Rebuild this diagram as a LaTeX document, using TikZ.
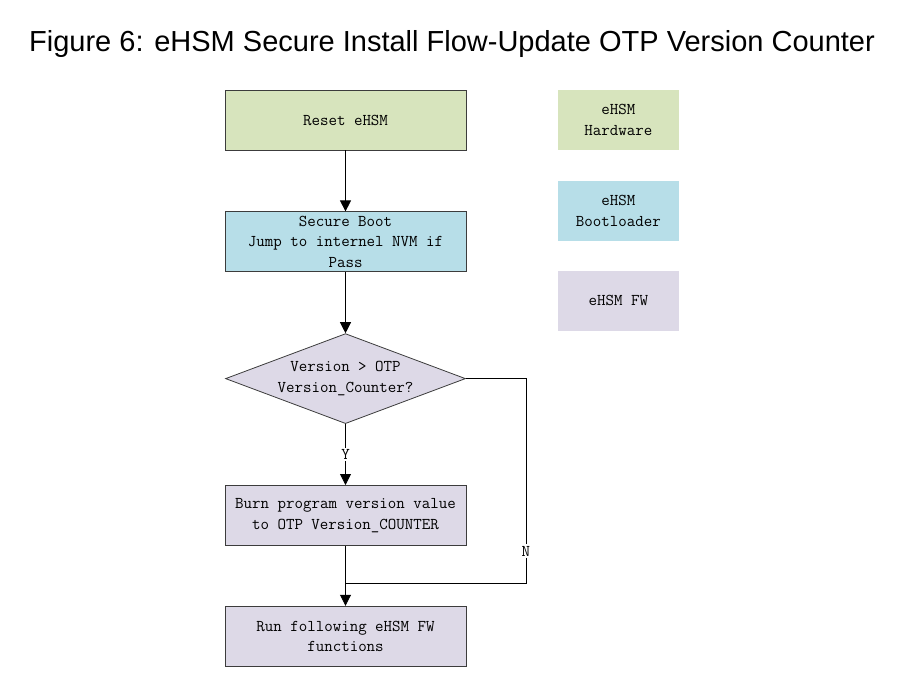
\documentclass[tikz,border=0pt]{standalone}
\usepackage{fontspec}
\setmainfont{Liberation Sans}
\usepackage{tikz}
\usetikzlibrary{arrows.meta,calc,positioning,shapes.geometric}
\definecolor{hwgreen}{HTML}{D7E4BD}
\definecolor{blblue}{HTML}{B7DEE8}
\definecolor{fwlilac}{HTML}{DDD9E7}
\definecolor{edgegray}{HTML}{3C3C3C}
\tikzset{
  flow node/.style={draw=edgegray,line width=0.8pt,minimum width=241pt,
    minimum height=60pt,inner sep=2pt,align=center,
    font=\ttfamily\fontsize{16.5}{20.5}\selectfont},
  hw node/.style={flow node,fill=hwgreen},
  bl node/.style={flow node,fill=blblue},
  fw node/.style={flow node,fill=fwlilac},
  check node/.style={fw node,diamond,aspect=2.67,minimum width=240pt,
    minimum height=90pt,inner sep=0pt},
  legend node/.style={flow node,draw=none,minimum width=121pt},
  flow arrow/.style={-{Triangle[length=11pt,width=11pt]},line width=0.8pt,
    draw=black},
  flow line/.style={line width=0.8pt,draw=black},
  branch label/.style={fill=white,inner sep=1.5pt,
    font=\ttfamily\fontsize{16.5}{18}\selectfont},
}
\begin{document}
\begin{tikzpicture}[x=1pt,y=-1pt,node distance=61pt]
  \useasboundingbox (0,0) rectangle (901,694);
  \node[font=\fontsize{29}{34}\selectfont] (title) at (452,44)
    {Figure 6: eHSM Secure Install Flow-Update OTP Version Counter};

  % Main flow, top to bottom.
  \node[hw node] (reset) at (345.5,120) {Reset eHSM};
  \node[bl node,below=of reset] (boot)
    {Secure Boot\\Jump to internel NVM if\\Pass};
  \node[check node,below=of boot] (check)
    {Version > OTP\\Version\_Counter?};
  \node[fw node,below=of check] (burn)
    {Burn program version value\\to OTP Version\_COUNTER};
  \node[fw node,below=60pt of burn] (run)
    {Run following eHSM FW\\functions};

  \draw[flow arrow] (reset)--(boot);
  \draw[flow arrow] (boot)--(check);
  \draw[flow arrow] (check)--node[branch label] {Y} (burn);
  \draw[flow arrow] (burn)--(run);

  % The N branch skips the burn step and joins above the last box.
  \coordinate[right=60pt of check.east] (nturn);
  \coordinate (merge) at ($(burn.south)!0.633!(run.north)$);
  \draw[flow line] (check.east)--(nturn) |- node[branch label,pos=0.42]
    {N} (merge);

  % Legend of colours.
  \node[legend node,fill=hwgreen,right=91pt of reset.east,anchor=west]
    (leghw) {eHSM\\Hardware};
  \node[legend node,fill=blblue,below=30pt of leghw] (legbl)
    {eHSM\\Bootloader};
  \node[legend node,fill=fwlilac,below=29pt of legbl] (legfw) {eHSM FW};
\end{tikzpicture}
\end{document}
